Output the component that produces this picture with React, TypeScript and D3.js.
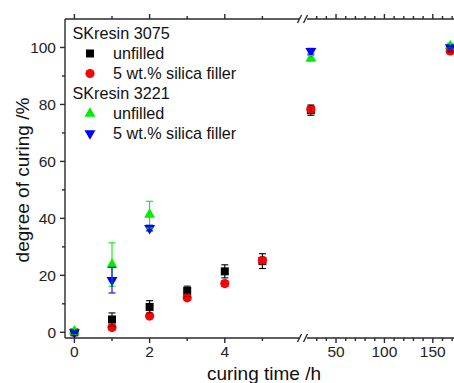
import React from "react";
import * as d3 from "d3";

// ---- data ----
const timesAll = [0, 1, 2, 3, 4, 5, 24, 168];
const timesShort = [0, 1, 2, 24, 168];

const sk3075Unfilled = [0, 4.5, 8.9, 14.5, 21.4, 25, 78, 99.5];
const sk3075UnfilledErr = [0.5, 2.3, 2.2, 1.7, 2.3, 2.6, 1.8, 1];
const sk3075Filled = [0, 1.7, 5.7, 12.1, 17.1, 25.3, 78.3, 98.8];
const sk3075FilledErr = [0.5, 0.8, 0.8, 0.8, 1, 1, 1, 1];
const sk3221Unfilled = [0.3, 23.8, 41.3, 96.2, 100.5];
const sk3221UnfilledErr = [1, 7.6, 4.7, 1, 1];
const sk3221Filled = [0, 18.3, 36.6, 98.7, 100];
const sk3221FilledErr = [0.5, 4.5, 1, 1, 0.5];

const yTicks = [0, 20, 40, 60, 80, 100];
const yMinor = [10, 30, 50, 70, 90];
const x1Ticks = [0, 2, 4];
const x1Minor = [1, 3, 5];
const x2Ticks = [50, 100, 150];
const x2Minor = [30, 40, 60, 70, 80, 90, 110, 120, 130, 140, 160, 170];

const legendGroups = [
  { title: "SKresin 3075", items: [{ label: "unfilled", key: 0 }, { label: "5 wt.% silica filler", key: 1 }] },
  { title: "SKresin 3221", items: [{ label: "unfilled", key: 2 }, { label: "5 wt.% silica filler", key: 3 }] },
];

const FONT = "Liberation Sans, Arial, sans-serif";
const AXIS = "#2a2a2a";

export default function App() {
  const W = 454, H = 383;
  const top = 19, bottom = 338, left = 65;
  const y = d3.scaleLinear().domain([-2, 110]).range([bottom, top]);
  const x1 = d3.scaleLinear().domain([-0.25, 6]).range([left, 300]);
  const x2 = d3.scaleLinear().domain([20, 175]).range([307, 457]);
  const xs = (t: number) => (t <= 6 ? x1(t) : x2(t));

  const series = [
    { t: timesAll, v: sk3075Unfilled, e: sk3075UnfilledErr, color: "#000000", shape: "square" },
    { t: timesAll, v: sk3075Filled, e: sk3075FilledErr, color: "#ff0000", shape: "circle" },
    { t: timesShort, v: sk3221Unfilled, e: sk3221UnfilledErr, color: "#00ee00", shape: "up" },
    { t: timesShort, v: sk3221Filled, e: sk3221FilledErr, color: "#0000ff", shape: "down" },
  ];

  const symPath = (shape: string) => {
    if (shape === "square") return d3.symbol(d3.symbolSquare, 64)()!;
    if (shape === "circle") return d3.symbol(d3.symbolCircle, 66)()!;
    return d3.symbol(d3.symbolTriangle, 52)()!;
  };
  const marker = (shape: string, color: string, cx: number, cy: number, k: string) => (
    <path
      key={k}
      d={symPath(shape)}
      transform={`translate(${cx},${cy})${shape === "down" ? " rotate(180)" : ""}`}
      fill={color}
    />
  );

  const cap = 3.5;

  return (
    <svg width={W} height={H} style={{ position: "absolute", left: 0, top: 0 }}>
      <rect width={W} height={H} fill="#fff" />
      {/* axes lines */}
      <g stroke={AXIS} strokeWidth={1.4} fill="none">
        <line x1={left} x2={left} y1={top} y2={bottom} />
        <line x1={left} x2={299} y1={bottom} y2={bottom} />
        <line x1={307} x2={W} y1={bottom} y2={bottom} />
        <line x1={left} x2={299} y1={top} y2={top} />
        <line x1={307} x2={W} y1={top} y2={top} />
        {/* break marks */}
        {[bottom, top].map((yy) => (
          <g key={yy}>
            <line x1={297.5} y1={yy + 4} x2={301.5} y2={yy - 4} />
            <line x1={303.5} y1={yy + 4} x2={307.5} y2={yy - 4} />
          </g>
        ))}
        {/* y ticks */}
        {yTicks.map((v) => <line key={"ym" + v} x1={left - 5} x2={left} y1={y(v)} y2={y(v)} />)}
        {yMinor.map((v) => <line key={"yn" + v} x1={left - 3} x2={left} y1={y(v)} y2={y(v)} />)}
        {/* x ticks bottom and top */}
        {x1Ticks.map((v) => (
          <g key={"x1m" + v}>
            <line x1={x1(v)} x2={x1(v)} y1={bottom} y2={bottom + 5} />
            <line x1={x1(v)} x2={x1(v)} y1={top} y2={top - 5} />
          </g>
        ))}
        {x1Minor.map((v) => (
          <g key={"x1n" + v}>
            <line x1={x1(v)} x2={x1(v)} y1={bottom} y2={bottom + 3} />
            <line x1={x1(v)} x2={x1(v)} y1={top} y2={top - 3} />
          </g>
        ))}
        {x2Ticks.map((v) => (
          <g key={"x2m" + v}>
            <line x1={x2(v)} x2={x2(v)} y1={bottom} y2={bottom + 5} />
            <line x1={x2(v)} x2={x2(v)} y1={top} y2={top - 5} />
          </g>
        ))}
        {x2Minor.map((v) => (
          <g key={"x2n" + v}>
            <line x1={x2(v)} x2={x2(v)} y1={bottom} y2={bottom + 3} />
            <line x1={x2(v)} x2={x2(v)} y1={top} y2={top - 3} />
          </g>
        ))}
      </g>
      {/* tick labels */}
      <g fontFamily={FONT} fontSize={15.5} fill="#222">
        {yTicks.map((v) => (
          <text key={"yl" + v} x={left - 9} y={y(v)} dy="0.36em" textAnchor="end">{v}</text>
        ))}
        {x1Ticks.map((v) => (
          <text key={"x1l" + v} x={x1(v)} y={357} textAnchor="middle">{v}</text>
        ))}
        {x2Ticks.map((v) => (
          <text key={"x2l" + v} x={x2(v)} y={357} textAnchor="middle">{v}</text>
        ))}
      </g>
      {/* axis titles */}
      <g fontFamily={FONT} fontSize={19} fill="#111">
        <text x={264} y={380} textAnchor="middle">curing time /h</text>
        <text transform="translate(29,180) rotate(-90)" textAnchor="middle">degree of curing /%</text>
      </g>
      {/* markers */}
      <g>
        {series.map((s, si) =>
          s.t.map((t, i) => marker(s.shape, s.color, xs(t), y(s.v[i]), `m${si}-${i}`))
        )}
      </g>
      {/* error bars */}
      <g strokeWidth={1.1} fill="none">
        {series.map((s, si) =>
          s.t.map((t, i) => {
            const cx = xs(t);
            const y1 = y(s.v[i] + s.e[i]);
            const y0 = y(s.v[i] - s.e[i]);
            return (
              <g key={`e${si}-${i}`} stroke={s.color}>
                <line x1={cx} x2={cx} y1={y1} y2={y0} />
                <line x1={cx - cap} x2={cx + cap} y1={y1} y2={y1} />
                <line x1={cx - cap} x2={cx + cap} y1={y0} y2={y0} />
              </g>
            );
          })
        )}
      </g>
      {/* legend */}
      <g fontFamily={FONT} fontSize={16.2} fill="#111">
        {legendGroups.map((g, gi) => {
          const base = 39 + gi * 60;
          return (
            <g key={"lg" + gi}>
              <text x={72.5} y={base}>{g.title}</text>
              {g.items.map((it, ii) => {
                const by = base + 20 * (ii + 1);
                const s = series[it.key];
                return (
                  <g key={"li" + ii}>
                    {marker(s.shape, s.color, 90, by - 5.5, "lm" + gi + ii)}
                    <text x={113} y={by}>{it.label}</text>
                  </g>
                );
              })}
            </g>
          );
        })}
      </g>
    </svg>
  );
}
